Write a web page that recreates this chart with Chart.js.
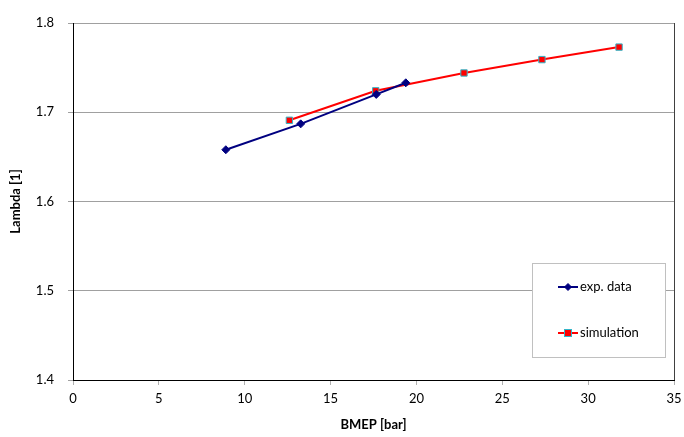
<!DOCTYPE html>
<html>
<head>
<meta charset="utf-8">
<script src="https://cdn.jsdelivr.net/npm/chart.js@4/dist/chart.umd.min.js"></script>
<style>
  html, body { margin: 0; padding: 0; background: #fff; }
  #wrap { width: 684px; height: 437px; }
</style>
</head>
<body>
<div id="wrap"><canvas id="mychart" width="684" height="437"></canvas></div>
<script>
// values
var bmepExp = [8.9, 13.26, 17.66, 19.38]
var lambdaExp = [1.658, 1.687, 1.720, 1.733]
var bmepSim = [12.6, 17.63, 22.77, 27.31, 31.8]
var lambdaSim = [1.691, 1.724, 1.744, 1.759, 1.773]
var xTicks = [0, 5, 10, 15, 20, 25, 30, 35]
var yTicks = [1.4, 1.5, 1.6, 1.7, 1.8]

var fontName = "Lato, 'Open Sans', sans-serif"

function toPoints(xs, ys) {
    var pts = []
    for (var i = 0; i < xs.length; i++) pts.push({ x: xs[i], y: ys[i] })
    return pts
}

// legend box drawn inside the plot, like the original
var boxLegend = {
    id: 'boxLegend',
    afterDraw: function (chart) {
        var ctx = chart.ctx
        var area = chart.chartArea
        // right frame line
        ctx.save()
        ctx.strokeStyle = '#404040'
        ctx.lineWidth = 1
        ctx.beginPath()
        ctx.moveTo(area.right + 0.5, area.top)
        ctx.lineTo(area.right + 0.5, area.bottom)
        ctx.stroke()

        var bx = area.right - 142, by = area.top + 240, bw = 133, bh = 94
        ctx.fillStyle = '#fff'
        ctx.fillRect(bx, by, bw, bh)
        ctx.strokeStyle = '#c0c0c0'
        ctx.strokeRect(bx + 0.5, by + 0.5, bw, bh)

        var rows = [by + 24, by + 70]
        chart.data.datasets.forEach(function (ds, i) {
            var y = rows[i]
            var x0 = bx + 26, x1 = bx + 46, xm = (x0 + x1) / 2
            ctx.strokeStyle = ds.borderColor
            ctx.lineWidth = 2
            ctx.beginPath()
            ctx.moveTo(x0, y)
            ctx.lineTo(x1, y)
            ctx.stroke()
            ctx.fillStyle = ds.pointBackgroundColor
            ctx.strokeStyle = ds.pointBorderColor
            ctx.lineWidth = 1
            if (ds.pointStyle === 'rectRot') {
                ctx.beginPath()
                ctx.moveTo(xm, y - 3.5)
                ctx.lineTo(xm + 3.5, y)
                ctx.lineTo(xm, y + 3.5)
                ctx.lineTo(xm - 3.5, y)
                ctx.closePath()
                ctx.fill()
                ctx.stroke()
            } else {
                ctx.fillRect(xm - 3.5, y - 3.5, 7, 7)
                ctx.strokeRect(xm - 3.5, y - 3.5, 7, 7)
            }
            ctx.fillStyle = '#000'
            ctx.font = '13px ' + fontName
            ctx.textBaseline = 'middle'
            ctx.textAlign = 'left'
            ctx.fillText(ds.label, x1 + 2, y)
        })
        ctx.restore()
    }
}

var myChart = document.getElementById('mychart').getContext('2d')

var chart = new Chart(myChart, {
    type: 'scatter',
    data: {
        datasets: [
            {
                label: 'exp. data',
                data: toPoints(bmepExp, lambdaExp),
                showLine: true,
                borderColor: '#000080',
                borderWidth: 2,
                pointStyle: 'rectRot',
                pointRadius: 4,
                pointBackgroundColor: '#000080',
                pointBorderColor: '#000080',
                pointBorderWidth: 1,
            },
            {
                label: 'simulation',
                data: toPoints(bmepSim, lambdaSim),
                showLine: true,
                borderColor: '#ff0000',
                borderWidth: 2,
                pointStyle: 'rect',
                pointRadius: 4.5,
                pointBackgroundColor: '#ff0000',
                pointBorderColor: '#33b5c8',
                pointBorderWidth: 1,
            },
        ],
    },
    options: {
        responsive: false,
        animation: false,
        layout: { padding: { top: 23, right: 10, left: 4, bottom: 0 } },
        plugins: {
            legend: { display: false },
            tooltip: { enabled: false },
        },
        scales: {
            x: {
                type: 'linear',
                min: 0,
                max: 35,
                afterBuildTicks: function (scale) {
                    scale.ticks = xTicks.map(function (v) { return { value: v } })
                },
                afterFit: function (scale) {
                    scale.height = 57
                    scale.paddingRight = 0
                    scale.paddingLeft = 0
                },
                ticks: {
                    color: '#000',
                    font: { family: fontName, size: 13 },
                    padding: 6,
                },
                grid: {
                    drawOnChartArea: false,
                    drawTicks: true,
                    tickLength: 5,
                    color: '#b0b0b0',
                },
                border: { color: '#000', width: 1 },
                title: {
                    display: true,
                    text: 'BMEP [bar]',
                    color: '#000',
                    font: { family: fontName, size: 13, weight: 'bold' },
                    padding: { top: 7 },
                },
            },
            y: {
                type: 'linear',
                min: 1.4,
                max: 1.8,
                afterBuildTicks: function (scale) {
                    scale.ticks = yTicks.map(function (v) { return { value: v } })
                },
                afterFit: function (scale) {
                    scale.width = 69
                    scale.paddingTop = 0
                    scale.paddingBottom = 0
                },
                ticks: {
                    color: '#000',
                    font: { family: fontName, size: 13 },
                    padding: 14,
                    callback: function (v) { return v.toFixed(1) },
                },
                grid: {
                    color: '#a0a0a0',
                    drawTicks: true,
                    tickLength: 5,
                },
                border: { color: '#000', width: 1 },
                title: {
                    display: true,
                    text: 'Lambda [1]',
                    color: '#000',
                    font: { family: fontName, size: 13, weight: 'bold' },
                    padding: { bottom: 4 },
                },
            },
        },
    },
    plugins: [boxLegend],
})
</script>
</body>
</html>
